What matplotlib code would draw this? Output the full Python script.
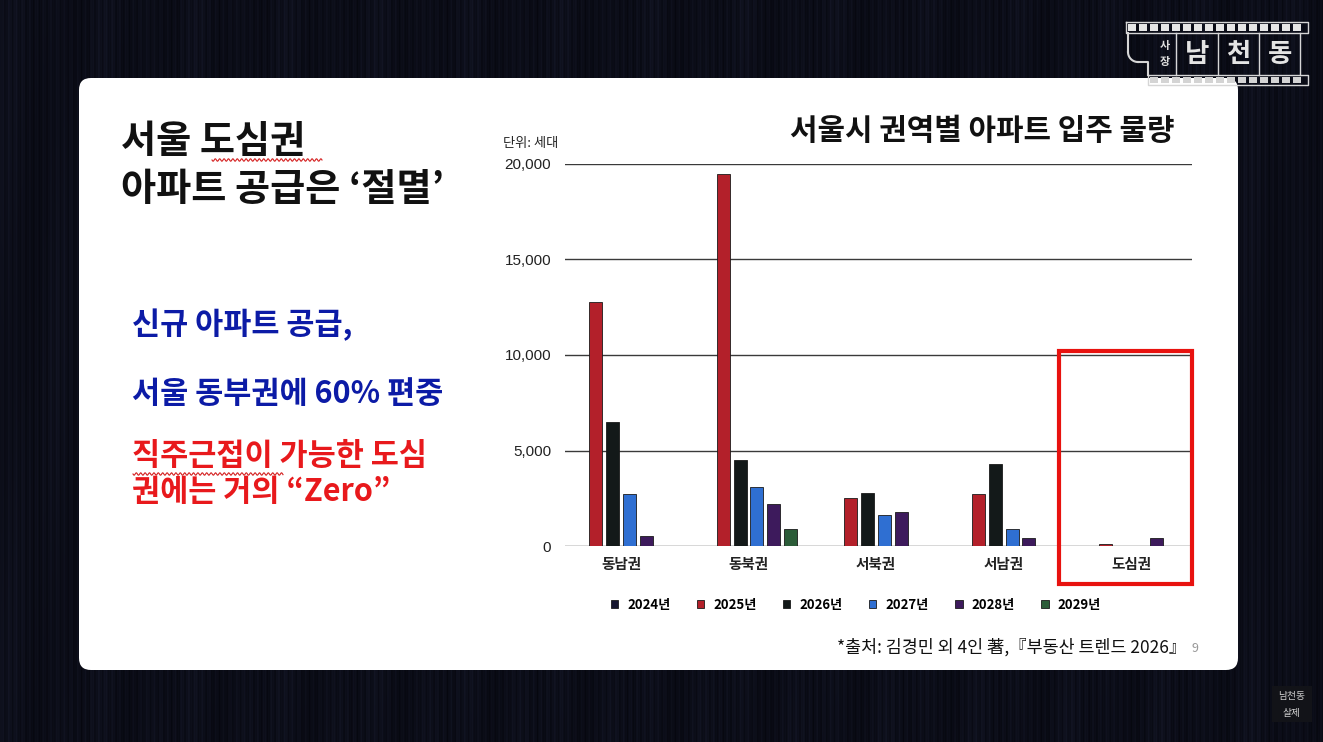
import numpy as np
import matplotlib
matplotlib.use('Agg')
import matplotlib.pyplot as plt
from matplotlib.patches import FancyBboxPatch, Rectangle

plt.rcParams['font.family'] = ['Noto Sans CJK KR', 'DejaVu Sans']

# data (unit: households)
regions = ['동남권', '동북권', '서북권', '서남권', '도심권']
years = ['2024년', '2025년', '2026년', '2027년', '2028년', '2029년']
v2024 = [0, 0, 0, 0, 0]
v2025 = [12800, 19500, 2500, 2700, 80]
v2026 = [6500, 4500, 2800, 4300, 0]
v2027 = [2700, 3100, 1600, 900, 0]
v2028 = [500, 2200, 1800, 400, 400]
v2029 = [0, 900, 0, 0, 0]
yticks = [0, 5000, 10000, 15000, 20000]
colors = ['#15152e', '#b3202a', '#131919', '#2f6fd2', '#3d1a5c', '#2b5c38']

W, H = 1323, 742
fig = plt.figure(figsize=(W / 100, H / 100), dpi=100)

# background layer in pixel coords
bg = fig.add_axes([0, 0, 1, 1], zorder=0)
bg.set_xlim(0, W)
bg.set_ylim(H, 0)
bg.axis('off')

xx = np.arange(W)
yy = np.arange(H)[:, None]
s = 0.5 + 0.22 * np.sin(xx * 0.91) + 0.15 * np.sin(xx * 2.37 + 1.0) + 0.12 * np.sin(xx * 0.137)
s = s[None, :] * (0.85 + 0.15 * np.sin(yy * 0.011 + xx[None, :] * 0.07))
img = np.dstack([0.025 + 0.05 * s, 0.03 + 0.055 * s, 0.06 + 0.085 * s])
bg.imshow(img, extent=(0, W, H, 0), aspect='auto', zorder=0)

panel = FancyBboxPatch((79, 78), 1159, 592, boxstyle='round,pad=0,rounding_size=12',
                       fc='white', ec='none', zorder=1)
bg.add_patch(panel)

# left side texts
bg.text(121, 142, '서울 도심권', fontsize=27.5, fontweight='bold', color='#111111', va='center', zorder=3)
bg.text(121, 189, '아파트 공급은 ‘절멸’', fontsize=27.5, fontweight='bold', color='#111111', va='center', zorder=3)
bg.text(132, 325, '신규 아파트 공급,', fontsize=22, fontweight='bold', color='#0c1ba6', va='center', zorder=3)
bg.text(132, 394, '서울 동부권에 60% 편중', fontsize=22, fontweight='bold', color='#0c1ba6', va='center', zorder=3)
bg.text(132, 456, '직주근접이 가능한 도심', fontsize=22, fontweight='bold', color='#e8191c', va='center', zorder=3)
bg.text(132, 492, '권에는 거의 “Zero”', fontsize=22, fontweight='bold', color='#e8191c', va='center', zorder=3)

# spell-check squiggles
for x0, x1, y0 in [(212, 322, 160), (133, 283, 474)]:
    wx = np.linspace(x0, x1, 400)
    bg.plot(wx, y0 + 1.2 * np.sin((wx - x0) * np.pi / 2.2), color='#d42020', lw=0.8, zorder=3)

# chart titles and notes
bg.text(982, 131, '서울시 권역별 아파트 입주 물량', fontsize=21.5, fontweight='bold', color='#111111',
        ha='center', va='center', zorder=3)
bg.text(503, 143, '단위: 세대', fontsize=9.5, color='#222222', va='center', zorder=3)
bg.text(1186, 647, '*출처: 김경민 외 4인 著,『부동산 트렌드 2026』', fontsize=12.5, color='#111111',
        ha='right', va='center', zorder=3)
bg.text(1191, 649, '9', fontsize=9, color='#999999', va='center', zorder=3)

# logo (film strip)
lc = '#d6d6d6'
bg.plot([1126, 1308, 1308, 1126, 1126], [22, 22, 33, 33, 22], color=lc, lw=1, zorder=3)
for sx in np.arange(1128, 1302, 11):
    bg.add_patch(Rectangle((sx, 24), 8, 7, fc='#e6e6e6', ec='none', zorder=3))
bg.plot([1148, 1308, 1308, 1148, 1148], [75, 75, 85, 85, 75], color=lc, lw=1, zorder=3)
for sx in np.arange(1150, 1302, 11):
    bg.add_patch(Rectangle((sx, 77), 8, 6, fc='#d4d4d4', ec='none', zorder=3))
bg.plot([1128, 1128], [33, 52], color=lc, lw=1.5, zorder=3)
ang = np.linspace(np.pi, np.pi / 2, 30)
bg.plot(1138 + 10 * np.cos(ang), 52 + 10 * np.sin(ang), color=lc, lw=1.5, zorder=3)
bg.plot([1138, 1148, 1148], [62, 62, 75], color=lc, lw=1.5, zorder=3)
for vx in [1176, 1218, 1259, 1300]:
    bg.plot([vx, vx], [33, 75], color=lc, lw=1, zorder=3)
bg.text(1165, 45, '사', fontsize=8, color='#e0e0e0', ha='center', va='center', fontweight='bold', zorder=3)
bg.text(1165, 62, '장', fontsize=8, color='#e0e0e0', ha='center', va='center', fontweight='bold', zorder=3)
for tx, ch in [(1197, '남'), (1238, '천'), (1280, '동')]:
    bg.text(tx, 55, ch, fontsize=19, color='#e4e4e4', ha='center', va='center', fontweight='bold', zorder=3)

# bottom-right watermark
bg.add_patch(Rectangle((1272, 686), 40, 36, fc='#121318', ec='none', zorder=2))
bg.text(1292, 696, '남천동', fontsize=7, color='#d0d0d0', ha='center', va='center', zorder=3)
bg.text(1292, 713, '살제', fontsize=7, color='#d0d0d0', ha='center', va='center', zorder=3)

# chart
ax = fig.add_axes([565 / W, 1 - 546 / H, 627 / W, 382 / H], zorder=1)
ax.patch.set_alpha(0)
x = np.arange(len(regions))
width = 0.102
step = 0.133
series = [v2024, v2025, v2026, v2027, v2028, v2029]
for i, (yr, vals) in enumerate(zip(years, series)):
    ax.bar(x + (i - 2.5) * step, vals, width, color=colors[i], edgecolor='#1a1a1a',
           linewidth=0.6, label=yr, zorder=2)

ax.set_xlim(-0.439, 4.478)
ax.set_ylim(0, 20000)
ax.set_yticks(yticks)
ax.set_yticklabels([f'{v:,}' for v in yticks], fontfamily='Liberation Sans', fontsize=11, color='#222222')
ax.set_xticks(x)
ax.set_xticklabels(regions, fontsize=10.5, fontweight='bold', color='#222222')
ax.tick_params(axis='both', length=0)
ax.tick_params(axis='y', pad=10)
ax.tick_params(axis='x', pad=7)
ax.grid(axis='y', color='#3a3a3a', lw=1.0, zorder=1)
ax.set_axisbelow(True)
for sp in ax.spines.values():
    sp.set_visible(False)

ax.legend(loc='center', bbox_to_anchor=(856 / W, 1 - 605 / H), bbox_transform=fig.transFigure,
          ncol=6, frameon=False, prop={'size': 9.5, 'weight': 'bold'}, handlelength=0.55,
          handleheight=0.55, handletextpad=0.7, columnspacing=2.0)

# foreground: highlight box
fg = fig.add_axes([0, 0, 1, 1], zorder=2)
fg.set_xlim(0, W)
fg.set_ylim(H, 0)
fg.axis('off')
fg.patch.set_alpha(0)
fg.add_patch(Rectangle((1059, 351), 133, 233, fill=False, ec='#e8120f', lw=3))

fig.savefig('out.png', dpi=100)
